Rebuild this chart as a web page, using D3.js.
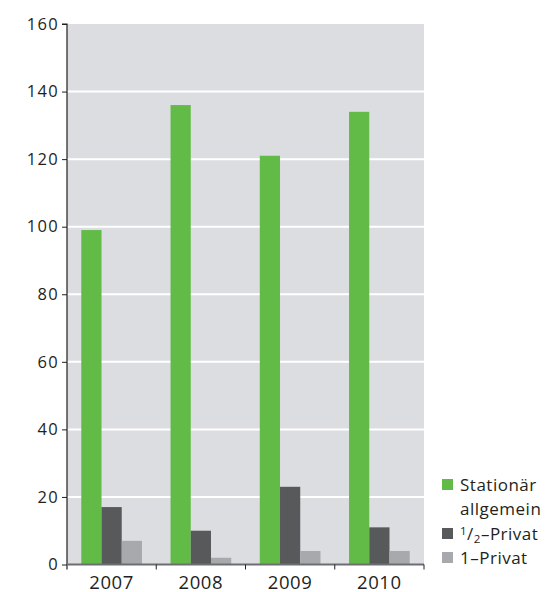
<!DOCTYPE html>
<html>
<head>
<meta charset="utf-8">
<script src="https://cdn.jsdelivr.net/npm/d3@7"></script>
<style>
  body { margin: 0; background: #fff; }
  text { font-family: "Open Sans", "Noto Sans", sans-serif; fill: #231f20; }
</style>
</head>
<body>
<svg id="chart" width="549" height="592"></svg>
<script>
// Years on the x axis
const years = ["2007", "2008", "2009", "2010"];
// Series
const seriesNames = ["Stationär allgemein", "½-Privat", "1-Privat"];
const stationaer = [99, 136, 121, 134];
const halbPrivat = [17, 10, 23, 11];
const einsPrivat = [7, 2, 4, 4];
const yTicks = [0, 20, 40, 60, 80, 100, 120, 140, 160];

const colors = ["#62bb46", "#58595b", "#a7a9ac"];
const seriesValues = [stationaer, halbPrivat, einsPrivat];

const svg = d3.select("#chart");
const plotLeft = 67, plotRight = 424, plotTop = 24, plotBottom = 564.5;

const x0 = d3.scaleBand().domain(years).range([plotLeft, plotRight])
  .paddingInner(0.32).paddingOuter(0.16);
const x1 = d3.scaleBand().domain(d3.range(3)).range([0, x0.bandwidth()]);
const y = d3.scaleLinear().domain([0, 160]).range([plotBottom, plotTop]);

// plot background
svg.append("rect").attr("x", plotLeft).attr("y", plotTop)
  .attr("width", plotRight - plotLeft).attr("height", plotBottom - plotTop)
  .attr("fill", "#dcdde0");

// white grid lines
svg.append("g").selectAll("line").data(yTicks.filter(d => d > 0 && d < 160)).join("line")
  .attr("x1", plotLeft).attr("x2", plotRight)
  .attr("y1", d => y(d)).attr("y2", d => y(d))
  .attr("stroke", "#fff").attr("stroke-width", 2);

// bars
const rows = years.map((yr, i) => ({ yr, vals: seriesValues.map(s => s[i]) }));
svg.append("g").selectAll("g").data(rows).join("g")
  .attr("transform", d => `translate(${x0(d.yr)},0)`)
  .selectAll("rect").data(d => d.vals.map((v, k) => ({ v, k }))).join("rect")
  .attr("x", d => x1(d.k)).attr("width", x1.bandwidth())
  .attr("y", d => y(d.v)).attr("height", d => y(0) - y(d.v))
  .attr("fill", d => colors[d.k]);

// y axis
const yAxis = d3.axisLeft(y).tickValues(yTicks).tickSize(5).tickPadding(3);
const gy = svg.append("g").attr("transform", `translate(${plotLeft},0)`).call(yAxis);
gy.attr("font-family", null);
gy.select(".domain").attr("stroke", "#231f20").attr("stroke-width", 1.2)
  .attr("d", `M-5,${plotTop}H0V${plotBottom + 5}`);
gy.selectAll(".tick line").attr("stroke", "#231f20");
gy.selectAll(".tick text").style("font-size", "16.5px").style("letter-spacing", "1.3px")
  .attr("fill", "#231f20");

// baseline
svg.append("line").attr("x1", plotLeft).attr("x2", plotRight)
  .attr("y1", plotBottom).attr("y2", plotBottom)
  .attr("stroke", "#6d6e71").attr("stroke-width", 2);

// x axis: ticks at group boundaries, labels centred on groups
const boundaries = d3.range(years.length + 1).map(i => plotLeft + i * (plotRight - plotLeft) / years.length);
svg.append("g").selectAll("line").data(boundaries.slice(1)).join("line")
  .attr("x1", d => d).attr("x2", d => d)
  .attr("y1", plotBottom).attr("y2", plotBottom + 5)
  .attr("stroke", "#231f20").attr("stroke-width", 1);
svg.append("g").selectAll("text").data(years).join("text")
  .attr("x", d => x0(d) + x0.bandwidth() / 2)
  .attr("y", 588.5)
  .attr("text-anchor", "middle")
  .style("font-size", "18.5px").style("letter-spacing", "0.6px")
  .text(d => d);

// legend
const legend = svg.append("g");
const lx = 442, ly = [479, 528, 552];
legend.selectAll("rect").data(colors).join("rect")
  .attr("x", lx).attr("y", (d, i) => ly[i]).attr("width", 11).attr("height", 11)
  .attr("fill", d => d);

const fs = "17px";
const t0 = legend.append("text").attr("x", 460).attr("y", 491).style("font-size", fs)
  .style("letter-spacing", "0.5px");
t0.append("tspan").text("Stationär");
t0.append("tspan").attr("x", 460).attr("dy", 23.5).text("allgemein");

const t1 = legend.append("text").attr("x", 460).attr("y", 540).style("font-size", fs)
  .style("letter-spacing", "0.5px");
t1.append("tspan").attr("dy", -5).style("font-size", "11.5px").text("1");
t1.append("tspan").attr("dy", 5).text("/");
t1.append("tspan").attr("dy", 3).style("font-size", "11.5px").text("2");
t1.append("tspan").attr("dy", -3).text("–Privat");

legend.append("text").attr("x", 460).attr("y", 564).style("font-size", fs)
  .style("letter-spacing", "0.5px").text("1–Privat");
</script>
</body>
</html>
